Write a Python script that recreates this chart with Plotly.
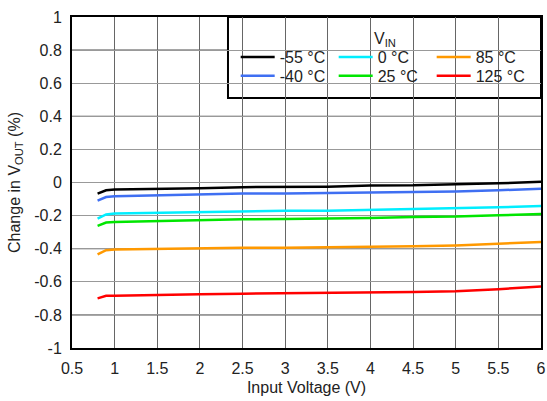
import plotly.graph_objects as go

x_v = [0.8, 0.9, 1.0, 1.5, 2.0, 2.5, 3.0, 3.5, 4.0, 4.5, 5.0, 5.5, 6.0]
m55 = [-0.067, -0.047, -0.043, -0.040, -0.035, -0.028, -0.027, -0.025, -0.018, -0.017, -0.010, -0.005, 0.005]
m40 = [-0.110, -0.088, -0.083, -0.077, -0.070, -0.067, -0.066, -0.063, -0.060, -0.057, -0.055, -0.047, -0.038]
t0 = [-0.218, -0.193, -0.188, -0.183, -0.178, -0.172, -0.171, -0.170, -0.165, -0.160, -0.157, -0.150, -0.142]
t25 = [-0.262, -0.242, -0.238, -0.232, -0.228, -0.222, -0.221, -0.219, -0.214, -0.208, -0.206, -0.198, -0.190]
t85 = [-0.435, -0.409, -0.405, -0.401, -0.398, -0.395, -0.394, -0.392, -0.389, -0.385, -0.380, -0.372, -0.360]
t125 = [-0.700, -0.685, -0.684, -0.678, -0.675, -0.672, -0.670, -0.668, -0.665, -0.662, -0.657, -0.645, -0.628]

# (name, values, colour, legend row)
series = [
    ("-55 °C", m55, "#000000", "legend"),
    ("0 °C", t0, "#00eeff", "legend"),
    ("85 °C", t85, "#ff9900", "legend"),
    ("-40 °C", m40, "#3f6ff2", "legend2"),
    ("25 °C", t25, "#00e600", "legend2"),
    ("125 °C", t125, "#ff0000", "legend2"),
]
legend_title = "V<sub>IN</sub>"

x_ticks = [0.5, 1, 1.5, 2, 2.5, 3, 3.5, 4, 4.5, 5, 5.5, 6]
x_labels = ["0.5", "1", "1.5", "2", "2.5", "3", "3.5", "4", "4.5", "5", "5.5", "6"]
y_ticks = [1, 0.8, 0.6, 0.4, 0.2, 0, -0.2, -0.4, -0.6, -0.8, -1]
y_labels = ["1", "0.8", "0.6", "0.4", "0.2", "0", "-0.2", "-0.4", "-0.6", "-0.8", "-1"]
y_dark = [0.8, 0.4, 0, -0.4, -0.8]

FONT = "Liberation Sans, Arial, sans-serif"
FS = 16

fig = go.Figure()
for name, ys, col, leg in series:
    fig.add_trace(go.Scatter(x=x_v, y=ys, mode="lines", name=name, legend=leg,
                             line=dict(color=col, width=2.5)))

shapes = []
for yv in y_dark:
    shapes.append(dict(type="line", xref="paper", yref="y", x0=0, x1=1, y0=yv, y1=yv,
                       line=dict(color="#222222", width=1), layer="below"))
# legend box
shapes.append(dict(type="rect", xref="paper", yref="paper", x0=0.3326, x1=1.0, y0=0.755, y1=1.0,
                   fillcolor="white", line=dict(color="black", width=2), layer="below"))

leg_common = dict(
    orientation="h", xanchor="left", yanchor="middle",
    bgcolor="rgba(0,0,0,0)", borderwidth=0,
    entrywidth=49, entrywidthmode="pixels",
    itemwidth=34, font=dict(size=FS),
)

fig.update_layout(
    width=547, height=401,
    margin=dict(l=72, r=6, t=17, b=53),
    paper_bgcolor="white", plot_bgcolor="white",
    font=dict(family=FONT, size=FS, color="#222222"),
    showlegend=True,
    legend=dict(x=0.349, y=0.879, **leg_common),
    legend2=dict(x=0.349, y=0.822, **leg_common),
    shapes=shapes,
    annotations=[dict(text=legend_title, xref="paper", yref="paper", x=0.667, y=0.933,
                      xanchor="center", yanchor="middle", showarrow=False,
                      font=dict(size=FS))],
    xaxis=dict(
        range=[0.5, 6], tickvals=x_ticks, ticktext=x_labels,
        showgrid=True, gridcolor="#666666", gridwidth=1,
        showline=True, linecolor="black", linewidth=2, mirror=True,
        ticks="", zeroline=False, automargin=False, ticklabelstandoff=5,
        title=dict(text="Input Voltage (V)", standoff=6, font=dict(size=FS)),
    ),
    yaxis=dict(
        range=[-1, 1], tickvals=y_ticks, ticktext=y_labels,
        showgrid=True, gridcolor="#999999", gridwidth=1,
        showline=True, linecolor="black", linewidth=2, mirror=True,
        ticks="", zeroline=False, automargin=False, ticklabelstandoff=5,
        title=dict(text="Change in V<sub>OUT</sub> (%)", standoff=10, font=dict(size=FS)),
    ),
)

fig.write_html("out.html", config={"displayModeBar": False},
               post_script="document.body.style.margin='0px';document.body.style.overflow='hidden';")
